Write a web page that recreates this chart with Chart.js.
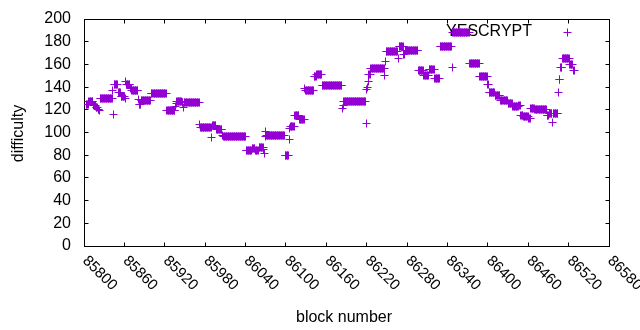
<!DOCTYPE html>
<html><head><meta charset="utf-8">
<script src="https://cdn.jsdelivr.net/npm/chart.js@4/dist/chart.umd.min.js"></script>
<style>html,body{margin:0;padding:0;background:#fff}canvas{display:block}</style>
</head><body>
<canvas id="c" width="640" height="330"></canvas>
<script>
const seriesName = 'YESCRYPT';
const xTitle = 'block number';
const yTitle = 'difficulty';
const xTicks = [85800, 85860, 85920, 85980, 86040, 86100, 86160, 86220, 86280, 86340, 86400, 86460, 86520, 86580];
const yTicks = [0, 20, 40, 60, 80, 100, 120, 140, 160, 180, 200];

// runs of consecutive blocks sharing one difficulty value
const runFirstBlock = [85803,85807,85814,85818,85821,85823,85824,85843,85844,85845,85851,85855,85861,85862,85863,85869,85871,85881,85882,85885,85900,85923,85936,85937,85938,85946,85948,85949,85972,85973,85990,85991,85997,86006,86007,86041,86050,86055,86060,86067,86068,86069,86070,86071,86099,86105,86106,86107,86113,86120,86128,86129,86142,86146,86154,86184,86185,86186,86219,86220,86221,86222,86223,86226,86247,86248,86249,86267,86268,86275,86277,86297,86305,86313,86321,86329,86347,86348,86373,86388,86400,86402,86411,86419,86430,86437,86446,86449,86453,86461,86464,86470,86488,86491,86496,86497,86505,86506,86508,86511,86522,86527];
const runLastBlock  = [85806,85813,85817,85820,85822,85823,85842,85843,85844,85850,85854,85860,85861,85862,85868,85870,85880,85881,85884,85899,85922,85935,85936,85937,85945,85947,85948,85971,85972,85989,85990,85996,86005,86006,86040,86049,86054,86059,86066,86067,86068,86069,86070,86098,86104,86105,86106,86112,86119,86127,86128,86141,86145,86153,86183,86184,86185,86218,86219,86220,86221,86222,86225,86246,86247,86248,86266,86267,86274,86276,86296,86304,86312,86320,86328,86346,86347,86372,86387,86399,86401,86410,86418,86429,86436,86445,86448,86452,86460,86463,86469,86487,86490,86495,86496,86504,86505,86507,86510,86521,86526,86528];
const runDifficulty = [125,127,124,122,120,119,130,137,116,142,135,132,130,145,142,139,137,129,125,128,134.5,119,122.7,125.7,127,126,121.6,126,107,104.6,95.8,106,102.5,97,96.5,84.5,85.5,84.5,86.5,85,81.7,96.3,100.5,97.5,79.5,93.4,103.7,105,115,111.5,139,137,149,151,141,121.3,124,127.5,108,138,140,144.8,151,156,150,162.4,171.5,165,175.5,169,172.5,155,150.5,155.5,147.5,175.5,157.5,188.5,161,149.5,142,135,132.5,128,125.7,122.7,124,115.4,114.5,112,121.3,120,115.4,117,109,117,135,147,157.5,165,160,155];

const points = [];
runFirstBlock.forEach((first, i) => {
  for (let b = first; b <= runLastBlock[i]; b++) points.push({ x: b, y: runDifficulty[i] });
});

const COLOR = '#9400d3';
const FONT = '"Liberation Sans", Arial, sans-serif';

const snapPlugin = {
  id: 'snap',
  afterDatasetsUpdate(chart) {
    chart.getDatasetMeta(0).data.forEach(el => {
      el.x = Math.floor(el.x) + 0.5;
      el.y = Math.floor(el.y) + 0.5;
    });
  }
};

const framePlugin = {
  id: 'frame',
  beforeDatasetsDraw(chart) {
    const { ctx, chartArea: a, scales: { x, y } } = chart;
    ctx.save();
    ctx.strokeStyle = '#000';
    ctx.lineWidth = 1;
    const L = Math.floor(a.left) + 0.5, R = Math.floor(a.right) + 0.5;
    const T = Math.floor(a.top) + 0.5, B = Math.floor(a.bottom) + 0.5;
    const TL = 4;
    ctx.beginPath();
    xTicks.forEach(v => {
      const px = Math.floor(x.getPixelForValue(v)) + 0.5;
      ctx.moveTo(px, B); ctx.lineTo(px, B - TL);
      ctx.moveTo(px, T); ctx.lineTo(px, T + TL);
    });
    yTicks.forEach(v => {
      const py = Math.floor(y.getPixelForValue(v)) + 0.5;
      ctx.moveTo(L, py); ctx.lineTo(L + TL, py);
      ctx.moveTo(R, py); ctx.lineTo(R - TL, py);
    });
    ctx.stroke();
    ctx.strokeRect(L, T, R - L, B - T);

    ctx.fillStyle = '#000';
    // y tick labels
    ctx.font = '16px ' + FONT;
    ctx.textAlign = 'right';
    ctx.textBaseline = 'middle';
    yTicks.forEach(v => {
      ctx.fillText(String(v), 71, y.getPixelForValue(v));
    });
    // x tick labels, rotated 45deg clockwise, starting at tick
    ctx.font = '15px ' + FONT;
    ctx.textAlign = 'left';
    xTicks.forEach(v => {
      const px = x.getPixelForValue(v);
      ctx.save();
      ctx.translate(px + 1, 258.5);
      ctx.rotate(Math.PI / 4);
      ctx.fillText(String(v), 0, 0);
      ctx.restore();
    });

    ctx.font = '16px ' + FONT;
    // x title
    ctx.textAlign = 'center';
    ctx.textBaseline = 'alphabetic';
    ctx.fillText(xTitle, 344, 321.5);
    // y title
    ctx.save();
    ctx.translate(23, 133.5);
    ctx.rotate(-Math.PI / 2);
    ctx.fillText(yTitle, 0, 0);
    ctx.restore();

    // key text
    ctx.textAlign = 'right';
    ctx.textBaseline = 'middle';
    ctx.fillText(seriesName, 532, 32);
    ctx.restore();
  },
  afterDatasetsDraw(chart) {
    const { ctx } = chart;
    ctx.save();
    ctx.strokeStyle = COLOR;
    ctx.lineWidth = 1;
    ctx.beginPath();
    ctx.moveTo(567.5, 28.5); ctx.lineTo(567.5, 36.5);
    ctx.moveTo(563.5, 32.5); ctx.lineTo(571.5, 32.5);
    ctx.stroke();
    ctx.restore();
  }
};

new Chart(document.getElementById('c'), {
  type: 'scatter',
  data: {
    datasets: [{
      label: seriesName,
      data: points,
      pointStyle: 'cross',
      pointRadius: 4,
      pointHoverRadius: 4,
      borderColor: COLOR,
      backgroundColor: COLOR,
      borderWidth: 1,
      showLine: false
    }]
  },
  options: {
    responsive: false,
    animation: false,
    devicePixelRatio: 1,
    layout: { padding: { left: 84, right: 31, top: 19, bottom: 84 } },
    scales: {
      x: { type: 'linear', min: 85800, max: 86580, display: false },
      y: { type: 'linear', min: 0, max: 200, display: false }
    },
    plugins: { legend: { display: false }, tooltip: { enabled: false } }
  },
  plugins: [snapPlugin, framePlugin]
});
</script>
</body></html>
